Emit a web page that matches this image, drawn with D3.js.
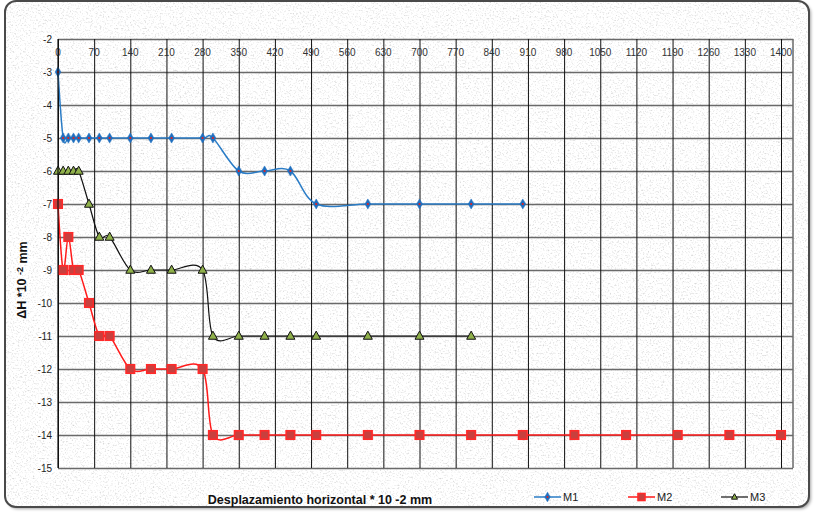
<!DOCTYPE html>
<html lang="en">
<head>
<meta charset="utf-8">
<title>Desplazamiento horizontal vs ΔH</title>
<script src="https://d3js.org/d3.v7.min.js"></script>
<style>
  body { margin: 0; background: #ffffff; }
  svg { display: block; font-family: "Liberation Sans", Arial, sans-serif; }
</style>
</head>
<body>
<script>
// values
const xTicks = [0,70,140,210,280,350,420,490,560,630,700,770,840,910,980,1050,1120,1190,1260,1330,1400];
const yTicks = [-2,-3,-4,-5,-6,-7,-8,-9,-10,-11,-12,-13,-14,-15];

const xM1 = [0,10,20,30,40,60,80,100,140,180,220,280,300,350,400,450,500,600,700,800,900];
const yM1 = [-3,-5,-5,-5,-5,-5,-5,-5,-5,-5,-5,-5,-5,-6,-6,-6,-7,-7,-7,-7,-7];

const xM2 = [0,10,20,30,40,60,80,100,140,180,220,280,300,350,400,450,500,600,700,800,900,1000,1100,1200,1300,1400];
const yM2 = [-7,-9,-8,-9,-9,-10,-11,-11,-12,-12,-12,-12,-14,-14,-14,-14,-14,-14,-14,-14,-14,-14,-14,-14,-14,-14];

const xM3 = [0,10,20,30,40,60,80,100,140,180,220,280,300,350,400,450,500,600,700,800];
const yM3 = [-6,-6,-6,-6,-6,-7,-8,-8,-9,-9,-9,-9,-11,-11,-11,-11,-11,-11,-11,-11];

const seriesNames = ["M1", "M2", "M3"];

const W = 814, H = 515;
const plot = {left: 58, top: 39, right: 793, bottom: 468};

const svg = d3.select("body").append("svg")
    .attr("width", W)
    .attr("height", H);

const defs = svg.append("defs");

// light grey speckled texture
const tex = defs.append("filter").attr("id", "tex")
    .attr("x", 0).attr("y", 0).attr("width", 1).attr("height", 1)
    .attr("color-interpolation-filters", "sRGB");
tex.append("feTurbulence").attr("type", "fractalNoise")
    .attr("baseFrequency", 0.6).attr("numOctaves", 3).attr("seed", 7).attr("result", "n");
tex.append("feColorMatrix").attr("type", "matrix")
    .attr("values", "1 0 0 0 0  1 0 0 0 0  1 0 0 0 0  0 0 0 0 1");
const ct = tex.append("feComponentTransfer");
["feFuncR","feFuncG","feFuncB"].forEach(f => ct.append(f).attr("type","linear").attr("slope",0.42).attr("intercept",0.8));

const shadow = defs.append("filter").attr("id", "shadow")
    .attr("x", -0.02).attr("y", -0.02).attr("width", 1.05).attr("height", 1.05);
shadow.append("feDropShadow").attr("dx", 2).attr("dy", 2).attr("stdDeviation", 1.5)
    .attr("flood-color", "#000").attr("flood-opacity", 0.35);

defs.append("clipPath").attr("id", "frameClip")
    .append("rect").attr("x", 5).attr("y", 1).attr("width", 804).attr("height", 506).attr("rx", 11);

// chart frame
svg.append("rect")
    .attr("x", 5).attr("y", 1).attr("width", 804).attr("height", 506).attr("rx", 11)
    .attr("fill", "#f4f4f4")
    .attr("filter", "url(#shadow)");
svg.append("g").attr("clip-path", "url(#frameClip)")
    .append("rect")
    .attr("x", 5).attr("y", 1).attr("width", 804).attr("height", 506)
    .attr("filter", "url(#tex)");
svg.append("rect")
    .attr("x", 5).attr("y", 1).attr("width", 804).attr("height", 506).attr("rx", 11)
    .attr("fill", "none")
    .attr("stroke", "#4a4a4a")
    .attr("stroke-width", 2);

// scales
const x = d3.scaleLinear().domain([0, 1400]).range([plot.left, 781]);
const y = d3.scaleLinear().domain([-15, -2]).range([plot.bottom, plot.top]);

// horizontal grid (grey)
svg.append("g")
    .attr("transform", "translate(" + plot.left + ",0)")
    .call(d3.axisLeft(y).tickValues(yTicks).tickSize(-(plot.right - plot.left)).tickFormat(""))
    .call(g => g.select(".domain").remove())
    .call(g => g.selectAll("line").attr("stroke", "#6a6a6a").attr("stroke-width", 1.5));

// vertical grid (black)
svg.append("g")
    .attr("transform", "translate(0," + plot.bottom + ")")
    .call(d3.axisBottom(x).tickValues(xTicks).tickSize(-(plot.bottom - plot.top)).tickFormat(""))
    .call(g => g.select(".domain").remove())
    .call(g => g.selectAll("line").attr("stroke", "#111").attr("stroke-width", 1));

// plot border right
svg.append("line")
    .attr("x1", plot.right).attr("x2", plot.right)
    .attr("y1", plot.top).attr("y2", plot.bottom)
    .attr("stroke", "#6a6a6a").attr("stroke-width", 1.5);

// y tick labels
svg.append("g")
    .selectAll("text")
    .data(yTicks)
    .join("text")
    .attr("x", plot.left - 6)
    .attr("y", d => y(d))
    .attr("dy", "0.35em")
    .attr("text-anchor", "end")
    .style("font-size", "10px")
    .style("fill", "#222")
    .text(d => d);

// x tick labels (inside the top of the plot)
svg.append("g")
    .selectAll("text")
    .data(xTicks)
    .join("text")
    .attr("x", d => x(d))
    .attr("y", 52)
    .attr("dy", "0.35em")
    .attr("text-anchor", "middle")
    .style("font-size", "10px")
    .style("fill", "#333")
    .text(d => d);

// series
const series = [
  {name: seriesNames[0], xs: xM1, ys: yM1, color: "#2a7cc6", marker: "diamond"},
  {name: seriesNames[1], xs: xM2, ys: yM2, color: "#ff1a1a", marker: "square"},
  {name: seriesNames[2], xs: xM3, ys: yM3, color: "#111111", marker: "triangle"}
];

const line = d3.line()
    .x(d => x(d[0]))
    .y(d => y(d[1]))
    .curve(d3.curveCatmullRom.alpha(0));

function drawMarker(g, kind, size) {
  if (kind === "diamond") {
    g.append("path")
      .attr("d", d3.symbol(d3.symbolDiamond, size * 6)())
      .attr("fill", "#1f6fbf").attr("stroke", "#1f6fbf").attr("stroke-width", 0.5);
    g.append("circle").attr("r", size * 0.22).attr("fill", "#e02020");
  } else if (kind === "square") {
    g.append("rect")
      .attr("x", -size / 2).attr("y", -size / 2)
      .attr("width", size).attr("height", size)
      .attr("fill", "#c8403e").attr("stroke", "#ff2a2a").attr("stroke-width", 1.6);
  } else {
    const h = size * 0.9;
    g.append("path")
      .attr("d", "M0," + (-h * 0.6) + "L" + (size / 2) + "," + (h * 0.4) + "L" + (-size / 2) + "," + (h * 0.4) + "Z")
      .attr("fill", "#8fb04a").attr("stroke", "#111").attr("stroke-width", 1);
  }
}

series.forEach(s => {
  const pts = s.xs.map((v, i) => [v, s.ys[i]]);
  svg.append("path")
    .datum(pts)
    .attr("d", line)
    .attr("fill", "none")
    .attr("stroke", s.color)
    .attr("stroke-width", s.marker === "triangle" ? 1.2 : 1.5);
  svg.append("g")
    .selectAll("g")
    .data(pts)
    .join("g")
    .attr("transform", d => "translate(" + x(d[0]) + "," + y(d[1]) + ")")
    .each(function () {
      drawMarker(d3.select(this), s.marker, s.marker === "diamond" ? 5 : (s.marker === "square" ? 8.5 : 9));
    });
});

// left axis line
svg.append("line")
    .attr("x1", plot.left).attr("x2", plot.left)
    .attr("y1", plot.top).attr("y2", plot.bottom)
    .attr("stroke", "#111").attr("stroke-width", 1.2);

// axis titles
svg.append("text")
    .attr("x", 320)
    .attr("y", 504)
    .attr("text-anchor", "middle")
    .style("font-size", "12.5px")
    .style("font-weight", "bold")
    .style("fill", "#111")
    .text("Desplazamiento horizontal * 10 -2 mm");

const yTitle = svg.append("text")
    .attr("transform", "translate(26,280) rotate(-90)")
    .attr("text-anchor", "middle")
    .style("font-size", "12.5px")
    .style("font-weight", "bold")
    .style("fill", "#111");
yTitle.append("tspan").text("ΔH *10 ");
yTitle.append("tspan").attr("dy", "-0.35em").style("font-size", "9px").text("-2");
yTitle.append("tspan").attr("dy", "0.35em").text(" mm");

// legend
const legendX = [534, 628, 721];
series.forEach((s, i) => {
  const lg = svg.append("g").attr("transform", "translate(" + legendX[i] + ",497)");
  lg.append("line").attr("x1", 0).attr("x2", 27).attr("y1", 0).attr("y2", 0)
    .attr("stroke", s.color).attr("stroke-width", s.marker === "triangle" ? 1.2 : 1.5);
  const mk = lg.append("g").attr("transform", "translate(13.5,0)");
  drawMarker(mk, s.marker, s.marker === "diamond" ? 4.5 : (s.marker === "square" ? 7 : 6));
  lg.append("text")
    .attr("x", 29).attr("y", 0).attr("dy", "0.35em")
    .style("font-size", "11px")
    .style("fill", "#222")
    .text(s.name);
});
</script>
</body>
</html>
